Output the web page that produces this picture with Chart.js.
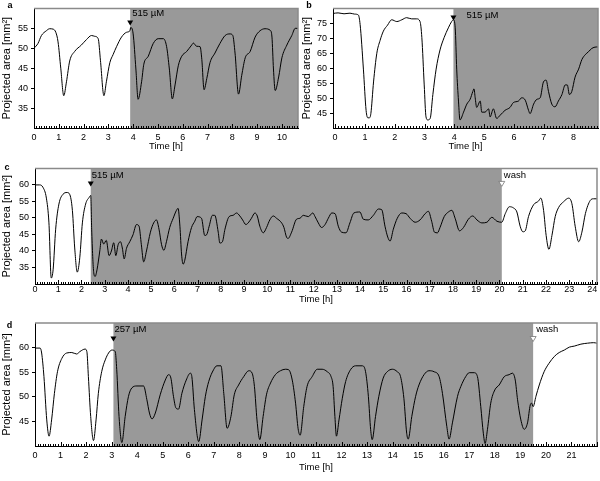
<!DOCTYPE html>
<html>
<head>
<meta charset="utf-8">
<script src="https://cdn.jsdelivr.net/npm/chart.js@4"></script>
<style>
  body { margin: 0; background: #fff; width: 600px; height: 481px; overflow: hidden; }
  .panel { position: absolute; }
</style>
</head>
<body>
<div class="panel" style="left:0;top:0;width:300px;height:160px"><canvas id="chartA"></canvas></div>
<div class="panel" style="left:300px;top:0;width:300px;height:160px"><canvas id="chartB"></canvas></div>
<div class="panel" style="left:0;top:160px;width:600px;height:150px"><canvas id="chartC"></canvas></div>
<div class="panel" style="left:0;top:310px;width:600px;height:171px"><canvas id="chartD"></canvas></div>
<script>
// ---- data ----
var timeA = [0, 0.16, 0.3, 0.5, 0.63, 0.77, 0.88, 0.97, 1.08, 1.2, 1.31, 1.44, 1.64, 1.91, 2.12, 2.32, 2.45, 2.59, 2.68, 2.82, 2.92, 3.06, 3.19, 3.33, 3.53, 3.73, 3.87, 3.9, 4.0, 4.11, 4.2, 4.34, 4.43, 4.61, 4.81, 5.01, 5.22, 5.35, 5.46, 5.58, 5.69, 5.82, 5.96, 6.16, 6.36, 6.43, 6.56, 6.7, 6.77, 6.86, 6.97, 7.1, 7.3, 7.5, 7.71, 7.91, 8.02, 8.11, 8.25, 8.38, 8.52, 8.72, 8.92, 9.12, 9.32, 9.53, 9.6, 9.66, 9.73, 9.87, 10.0, 10.2, 10.4, 10.54, 10.65];
var areaA = [50, 51.2, 53.2, 54.4, 54.9, 54.8, 54, 51.6, 45, 38.1, 41.6, 46.8, 49.2, 50.8, 52.2, 53.2, 53, 52.4, 47, 38.1, 41.6, 46.4, 48.4, 50.4, 52.8, 54, 54.4, 55.2, 53.6, 44.8, 37.2, 41.6, 46, 48, 51.2, 52.4, 52.4, 50.4, 44.8, 37.3, 40.8, 45.6, 48, 49.2, 50.8, 51.3, 50.5, 50.4, 47.2, 39.6, 42.4, 46.4, 48.8, 51.2, 53.2, 53.6, 53.2, 48.8, 38.5, 43.2, 47.6, 49.2, 52.8, 54.4, 54.9, 54.5, 52.8, 44.8, 39.4, 42.8, 47.6, 50.8, 53.2, 55, 55];

var timeB = [-0.07, 0.1, 0.3, 0.5, 0.65, 0.78, 0.84, 0.95, 1.04, 1.1, 1.15, 1.2, 1.29, 1.4, 1.51, 1.62, 1.76, 1.9, 2.07, 2.24, 2.4, 2.57, 2.74, 2.85, 2.91, 2.99, 3.05, 3.11, 3.19, 3.28, 3.39, 3.52, 3.66, 3.8, 3.91, 3.97, 4.03, 4.08, 4.14, 4.19, 4.31, 4.42, 4.53, 4.62, 4.66, 4.7, 4.75, 4.87, 4.92, 5.03, 5.15, 5.2, 5.31, 5.42, 5.54, 5.7, 5.87, 5.98, 6.15, 6.26, 6.38, 6.49, 6.54, 6.66, 6.77, 6.88, 6.99, 7.08, 7.16, 7.27, 7.38, 7.49, 7.61, 7.72, 7.79, 7.86, 7.94, 8.05, 8.17, 8.28, 8.39, 8.5, 8.61, 8.76, 8.82];
var areaB = [78.3, 78.5, 78.2, 78.4, 78.1, 77.8, 74.6, 59.7, 45.9, 43.4, 43.4, 44.8, 55.4, 65, 69.3, 72.4, 74.4, 76.2, 75.6, 76.2, 76.9, 76.5, 76.5, 75.6, 70.3, 54.4, 43.7, 42.7, 43.2, 51.2, 59.7, 66.1, 70.3, 73.5, 75.6, 76.2, 73.5, 59.7, 49, 42.7, 45.3, 48, 49.6, 52.2, 53.1, 50.1, 46.9, 49, 45.3, 45.3, 46.4, 43.7, 46.4, 43.2, 44.3, 45.9, 46.9, 48.5, 49, 50.1, 49.3, 45.9, 44.8, 48, 49.6, 50.1, 55.4, 56, 52.2, 48, 47.1, 49, 51.2, 54.4, 54.4, 51.2, 52.2, 57, 59.7, 62.9, 64.5, 65.5, 66.6, 67.1, 67.1];

var timeC = [0, 0.2, 0.34, 0.49, 0.6, 0.7, 0.78, 0.89, 1.03, 1.21, 1.38, 1.49, 1.61, 1.71, 1.82, 1.93, 2.04, 2.18, 2.33, 2.4, 2.44, 2.53, 2.59, 2.67, 2.79, 2.86, 2.96, 3.07, 3.19, 3.29, 3.39, 3.48, 3.58, 3.68, 3.76, 3.84, 3.94, 4.08, 4.22, 4.37, 4.48, 4.58, 4.68, 4.8, 4.97, 5.11, 5.23, 5.34, 5.45, 5.55, 5.66, 5.8, 5.95, 6.09, 6.16, 6.24, 6.31, 6.38, 6.45, 6.59, 6.74, 6.88, 6.98, 7.17, 7.31, 7.39, 7.5, 7.64, 7.74, 7.89, 7.96, 8.07, 8.18, 8.36, 8.53, 8.68, 8.82, 8.94, 9.08, 9.18, 9.32, 9.47, 9.57, 9.68, 9.83, 9.97, 10.11, 10.26, 10.4, 10.62, 10.72, 10.83, 10.9, 11.05, 11.26, 11.41, 11.55, 11.77, 11.96, 12.06, 12.2, 12.34, 12.49, 12.63, 12.78, 12.92, 13.06, 13.2, 13.39, 13.56, 13.73, 13.99, 14.14, 14.35, 14.57, 14.79, 14.93, 15.07, 15.19, 15.29, 15.43, 15.6, 15.79, 15.98, 16.15, 16.37, 16.58, 16.8, 16.94, 17.08, 17.2, 17.33, 17.44, 17.62, 17.8, 17.95, 18.09, 18.28, 18.45, 18.66, 18.85, 19.03, 19.24, 19.46, 19.67, 19.89, 20.1, 20.25, 20.43, 20.61, 20.75, 20.89, 21.01, 21.11, 21.25, 21.47, 21.68, 21.78, 21.9, 22.01, 22.13, 22.26, 22.4, 22.55, 22.76, 22.98, 23.12, 23.26, 23.41, 23.55, 23.7, 23.91, 24.05, 24.2];
var areaC = [60, 60, 59.3, 56, 48.5, 31.8, 34.3, 46.6, 54.2, 57.2, 57.7, 57.2, 52.3, 40.9, 33.6, 38.1, 48.5, 54.2, 56.2, 56.8, 46.6, 33.4, 32.3, 34.3, 40, 43.6, 42.1, 43.2, 38.6, 40, 42.5, 38.6, 41.9, 42.8, 40.9, 37.6, 40.8, 42.8, 44.9, 48, 47.5, 41.9, 36.7, 40, 45.7, 48.5, 49.4, 46.6, 41.9, 40.2, 42.8, 47.1, 49.9, 52.3, 52.9, 47.5, 39.1, 36, 37.2, 42.8, 47.1, 49, 50.4, 49.9, 44.7, 44.9, 47.5, 50.8, 50.8, 45.7, 42.4, 42.8, 46.6, 50.4, 50.8, 51.5, 50.6, 49.4, 48, 48.5, 49.9, 51.5, 50.6, 47.5, 45.5, 47.1, 49.4, 50.6, 49.9, 48.5, 47.1, 44.2, 43.8, 45.7, 49.6, 49.9, 50.8, 50.4, 51.5, 50.4, 48.5, 47.1, 48, 49.9, 51.5, 51.3, 47.5, 45.7, 45.5, 48.5, 51.5, 51.8, 49.6, 49.4, 50.8, 52.7, 52.5, 47.5, 44.2, 43, 46.6, 49.9, 51.5, 51.3, 49.9, 48.7, 49.4, 51.3, 52, 49, 45.7, 45.5, 47.1, 50.4, 51.8, 52.3, 49.9, 46.1, 47.1, 49.6, 50.6, 49.4, 48.5, 48.7, 50.2, 49, 48.7, 51.3, 53.4, 53, 51.8, 47.5, 45.8, 46.1, 50.4, 54, 55.1, 56, 52.3, 44.7, 40.5, 44.7, 50.4, 53.2, 54.9, 56, 54.3, 47.5, 42.8, 45.7, 51.3, 55.3, 55.8, 55.8];

var timeD = [0, 0.2, 0.26, 0.35, 0.46, 0.55, 0.65, 0.76, 0.88, 1.05, 1.24, 1.44, 1.63, 1.76, 1.96, 2.03, 2.09, 2.18, 2.29, 2.39, 2.48, 2.61, 2.75, 2.88, 3.01, 3.14, 3.2, 3.29, 3.4, 3.53, 3.66, 3.79, 3.99, 4.25, 4.38, 4.48, 4.58, 4.71, 4.9, 5.1, 5.23, 5.32, 5.42, 5.52, 5.62, 5.75, 5.92, 6.08, 6.14, 6.24, 6.41, 6.54, 6.67, 6.8, 6.99, 7.12, 7.28, 7.39, 7.52, 7.67, 7.8, 7.97, 8.17, 8.37, 8.5, 8.59, 8.69, 8.8, 8.93, 9.06, 9.22, 9.41, 9.61, 9.8, 9.93, 10.07, 10.2, 10.3, 10.38, 10.52, 10.65, 10.85, 11.05, 11.24, 11.44, 11.59, 11.67, 11.74, 11.8, 11.9, 12.03, 12.16, 12.35, 12.55, 12.81, 12.94, 13.05, 13.14, 13.2, 13.33, 13.46, 13.63, 13.79, 13.99, 14.18, 14.31, 14.44, 14.55, 14.61, 14.75, 14.9, 15.03, 15.23, 15.42, 15.62, 15.82, 15.95, 16.12, 16.21, 16.34, 16.54, 16.67, 16.86, 17.0, 17.19, 17.32, 17.45, 17.55, 17.62, 17.71, 17.84, 18.0, 18.17, 18.37, 18.56, 18.69, 18.8, 18.89, 19.02, 19.15, 19.28, 19.39, 19.44, 19.5, 19.61, 19.74, 19.93, 20.12, 20.33, 20.52, 20.72, 20.92, 21.11, 21.37, 21.63, 21.87, 22.0];
var areaD = [59.9, 59.9, 58.9, 54.1, 45.3, 42, 45.3, 50.7, 55.1, 57.8, 58.9, 59, 58.7, 59.2, 59.7, 59.2, 54.1, 46, 41.1, 45.3, 50.7, 55.1, 57.5, 58.9, 59.5, 59.2, 55.5, 46, 40.7, 46, 50.1, 51.8, 52.2, 52.2, 49.4, 46.7, 45.5, 46.7, 50.4, 53.4, 54.5, 53.8, 50.1, 47.7, 47.5, 50.7, 53.4, 54.8, 54.1, 47.4, 40.9, 45.3, 50.1, 53.1, 55.5, 56.3, 56.3, 50.7, 43.6, 46, 50.4, 52.4, 54.1, 55.3, 54.8, 52.1, 45.3, 41.3, 46, 50.4, 52.8, 54.5, 55.3, 55.6, 55.5, 53.4, 48.7, 43.5, 42.2, 48, 52.1, 54.1, 55.6, 55.6, 55.1, 54.1, 52.1, 46, 42, 45.3, 49.7, 53.1, 55.5, 56.3, 56.3, 55.1, 50.1, 43.3, 41.3, 46, 50.1, 53.8, 55.1, 55.6, 55.1, 54.1, 49.7, 42.6, 41.4, 46, 50.1, 52.4, 54.5, 55.3, 55.1, 54.1, 50.7, 44, 41.4, 44.7, 50.1, 52.1, 54.1, 54.9, 54.9, 54.1, 48, 42.6, 40.5, 43.3, 48.7, 51.4, 52.4, 54.1, 54.5, 54.8, 53.4, 49.4, 45.3, 43.4, 44.7, 48.4, 48.7, 48, 50.1, 52.4, 55.1, 56.8, 58.2, 59, 59.5, 60.1, 60.3, 60.7, 60.9, 61, 60.9];

var xTicksA = [0, 1, 2, 3, 4, 5, 6, 7, 8, 9, 10];
var xTicksB = [0, 1, 2, 3, 4, 5, 6, 7, 8];
var xTicksC = [0, 1, 2, 3, 4, 5, 6, 7, 8, 9, 10, 11, 12, 13, 14, 15, 16, 17, 18, 19, 20, 21, 22, 23, 24];
var xTicksD = [0, 1, 2, 3, 4, 5, 6, 7, 8, 9, 10, 11, 12, 13, 14, 15, 16, 17, 18, 19, 20, 21];
var yTicksA = [35, 40, 45, 50, 55];
var yTicksB = [45, 50, 55, 60, 65, 70, 75];
var yTicksC = [35, 40, 45, 50, 55, 60];
var yTicksD = [45, 50, 55, 60];

// drug added / washed out (h) and the labels beside the triangles
var treatA = 3.88, doseA = '515 µM';
var treatB = 3.97, doseB = '515 µM';
var treatC = 2.4, doseC = '515 µM', washC = 20.1;
var treatD = 3.07, doseD = '257 µM', washD = 19.5;

Chart.defaults.font.family = "'Liberation Sans', Arial, sans-serif";
Chart.defaults.font.size = 9;
Chart.defaults.color = '#000';

function makeExtras(p) {
  return {
    id: 'extras',
    beforeDraw: function (chart) {
      var a = chart.chartArea, xs = chart.scales.x, ctx = chart.ctx;
      var x0 = xs.getPixelForValue(p.shade[0]);
      var x1 = Math.min(xs.getPixelForValue(p.shade[1]), a.right);
      ctx.save();
      ctx.fillStyle = '#999999';
      ctx.fillRect(x0, a.top, x1 - x0, a.bottom - a.top);
      ctx.restore();
    },
    afterDatasetsDraw: function (chart) {
      var a = chart.chartArea, xs = chart.scales.x, ctx = chart.ctx;
      ctx.save();
      // grey frame top and right
      ctx.strokeStyle = '#8a8a8a';
      ctx.lineWidth = 1.5;
      ctx.beginPath();
      ctx.moveTo(a.left, a.top);
      ctx.lineTo(a.right, a.top);
      ctx.lineTo(a.right, a.bottom);
      ctx.stroke();
      // inward ticks on the time axis, every 0.1 h
      ctx.strokeStyle = '#000';
      ctx.lineWidth = 1;
      ctx.beginPath();
      for (var k = Math.ceil(xs.min * 10); k <= Math.floor(xs.max * 10); k++) {
        var px = Math.round(xs.getPixelForValue(k / 10)) + 0.5;
        var len = k % 10 === 0 ? 4 : 2;
        ctx.moveTo(px, a.bottom + (k % 10 === 0 ? 1 : 0));
        ctx.lineTo(px, a.bottom - len);
      }
      ctx.stroke();
      // triangles + labels
      ctx.font = "9.5px 'Liberation Sans', Arial, sans-serif";
      ctx.textBaseline = 'middle';
      ctx.textAlign = 'left';
      p.marks.forEach(function (m) {
        var tx = xs.getPixelForValue(m.t);
        var ty = a.top + p.box.triTop;
        ctx.beginPath();
        ctx.moveTo(tx - 3, ty);
        ctx.lineTo(tx + 3, ty);
        ctx.lineTo(tx, ty + 5);
        ctx.closePath();
        if (m.filled) {
          ctx.fillStyle = '#000';
          ctx.fill();
        } else {
          ctx.fillStyle = '#fff';
          ctx.fill();
          ctx.strokeStyle = '#777';
          ctx.lineWidth = 0.8;
          ctx.stroke();
        }
        ctx.fillStyle = '#000';
        ctx.fillText(m.text, tx + m.dx, a.top + p.box.textTop);
      });
      // panel letter
      ctx.font = "bold 9px 'Liberation Sans', Arial, sans-serif";
      ctx.textAlign = 'center';
      ctx.fillText(p.letter, p.box.letterX, p.box.letterY);
      ctx.restore();
    }
  };
}

function makePanel(id, p) {
  var pts = p.times.map(function (t, i) { return {x: t, y: p.values[i]}; });
  return new Chart(document.getElementById(id), {
    type: 'line',
    data: {
      datasets: [{
        data: pts,
        borderColor: '#000',
        borderWidth: 1,
        pointRadius: 0,
        fill: false,
        cubicInterpolationMode: 'monotone'
      }]
    },
    options: {
      responsive: true,
      maintainAspectRatio: false,
      animation: false,
      layout: {padding: {left: 0, top: p.box.top, right: p.box.right, bottom: 0}},
      plugins: {legend: {display: false}, tooltip: {enabled: false}},
      scales: {
        x: {
          type: 'linear',
          min: p.xMin,
          max: p.xMax,
          afterFit: function (s) { s.height = p.box.xHeight; },
          afterBuildTicks: function (s) { s.ticks = p.xTicks.map(function (v) { return {value: v}; }); },
          grid: {display: false, drawTicks: false},
          border: {color: '#000', width: 1},
          ticks: {padding: p.box.tickPad, maxRotation: 0, autoSkip: false, color: '#000'},
          title: {display: true, text: 'Time [h]', color: '#000', font: {size: 9.5}, padding: {top: 0, bottom: p.box.titlePad}}
        },
        y: {
          min: p.yMin,
          max: p.yMax,
          afterFit: function (s) { s.width = p.box.yWidth; },
          afterBuildTicks: function (s) { s.ticks = p.yTicks.map(function (v) { return {value: v}; }); },
          grid: {drawOnChartArea: false, tickLength: 3, color: '#000'},
          border: {color: '#000', width: 1},
          ticks: {padding: 3, color: '#000'},
          title: {display: true, text: 'Projected area [mm²]', color: '#000', font: {size: 11}, padding: {top: 0, bottom: 0}}
        }
      }
    },
    plugins: [makeExtras(p)]
  });
}

makePanel('chartA', {
  times: timeA, values: areaA, xTicks: xTicksA, yTicks: yTicksA,
  xMin: 0, xMax: 10.65, yMin: 30, yMax: 60,
  shade: [treatA, 10.65], letter: 'a',
  marks: [{t: treatA, text: doseA, filled: true, dx: 2}],
  box: {top: 3, right: 2, yWidth: 34, xHeight: 32, tickPad: 4.5, titlePad: 7.5, triTop: 12, textTop: 5, letterX: 10, letterY: 5.5}
});
makePanel('chartB', {
  times: timeB, values: areaB, xTicks: xTicksB, yTicks: yTicksB,
  xMin: -0.07, xMax: 8.82, yMin: 40, yMax: 80,
  shade: [treatB, 8.82], letter: 'b',
  marks: [{t: treatB, text: doseB, filled: true, dx: 13}],
  box: {top: 3, right: 2, yWidth: 33, xHeight: 32, tickPad: 4.5, titlePad: 7.5, triTop: 7, textTop: 7, letterX: 9, letterY: 5.5}
});
makePanel('chartC', {
  times: timeC, values: areaC, xTicks: xTicksC, yTicks: yTicksC,
  xMin: 0, xMax: 24.2, yMin: 30, yMax: 65,
  shade: [treatC, washC], letter: 'c',
  marks: [{t: treatC, text: doseC, filled: true, dx: 1}, {t: washC, text: 'wash', filled: false, dx: 2}],
  box: {top: 2, right: 3, yWidth: 35, xHeight: 26, tickPad: 0.5, titlePad: 4.5, triTop: 13, textTop: 6.5, letterX: 7, letterY: 7.5}
});
makePanel('chartD', {
  times: timeD, values: areaD, xTicks: xTicksD, yTicks: yTicksD,
  xMin: 0, xMax: 22.0, yMin: 40, yMax: 65,
  shade: [treatD, washD], letter: 'd',
  marks: [{t: treatD, text: doseD, filled: true, dx: 1}, {t: washD, text: 'wash', filled: false, dx: 3}],
  box: {top: 13, right: 3, yWidth: 35, xHeight: 35, tickPad: 4.5, titlePad: 7.5, triTop: 13.5, textTop: 6.7, letterX: 9.5, letterY: 15.5}
});
</script>
</body>
</html>
